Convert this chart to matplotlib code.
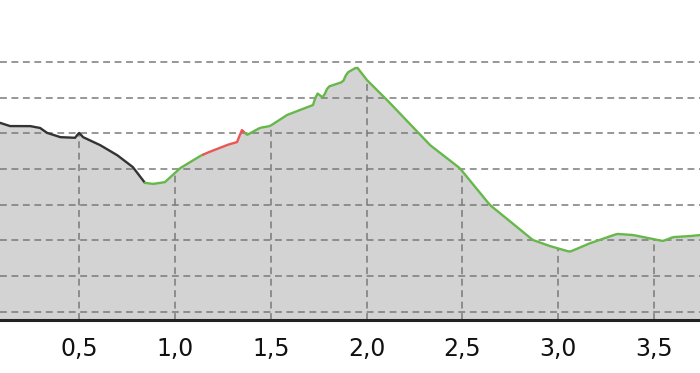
import matplotlib
matplotlib.use("Agg")
import matplotlib.pyplot as plt
import numpy as np

# distance (km) and elevation (m)
dist = [0.0, 0.088, 0.140, 0.244, 0.296, 0.333, 0.401, 0.479, 0.500, 0.521,
        0.609, 0.698, 0.781, 0.844, 0.886, 0.948, 1.027, 1.131, 1.168, 1.272,
        1.324, 1.350, 1.376, 1.444, 1.496, 1.585, 1.653, 1.721, 1.741, 1.773,
        1.799, 1.877, 1.898, 1.950, 2.002, 2.107, 2.242, 2.331, 2.487, 2.644,
        2.868, 2.957, 3.061, 3.166, 3.307, 3.390, 3.494, 3.547, 3.599, 3.688,
        3.740, 3.800]
elev = [153.2, 152.9, 152.0, 152.0, 151.5, 150.1, 148.9, 148.7, 150.1, 148.9,
        146.7, 143.9, 140.5, 136.1, 135.8, 136.3, 140.2, 143.6, 144.5, 146.7,
        147.5, 150.9, 149.5, 151.5, 152.0, 155.1, 156.5, 157.9, 161.3, 159.9,
        163.0, 164.4, 166.9, 168.5, 164.9, 159.3, 151.7, 146.7, 140.2, 129.9,
        120.1, 118.4, 116.8, 119.2, 121.8, 121.5, 120.4, 119.8, 120.9, 121.2,
        121.5, 121.6]

# colour segments along the track: (start km, end km, colour)
seg_start = [0.0, 0.844, 1.147, 1.366]
seg_end = [0.844, 1.147, 1.366, 3.800]
seg_color = ["#333333", "#66b84a", "#ee5555", "#66b84a"]

xticks = [0.5, 1.0, 1.5, 2.0, 2.5, 3.0, 3.5]
xlabels = ["0,5", "1,0", "1,5", "2,0", "2,5", "3,0", "3,5"]
yticks = [100, 110, 120, 130, 140, 150, 160, 170]

dist = np.array(dist)
elev = np.array(elev)

fig = plt.figure(figsize=(7.0, 3.73), dpi=100)
ax = fig.add_axes([0.0, 53 / 373, 1.0, 320 / 373])
ymin, ymax = 97.7, 187.3
ax.set_xlim(0.0876, 3.740)
ax.set_ylim(ymin, ymax)

ax.fill_between(dist, elev, ymin, color="#d3d3d3", lw=0, zorder=1)

# horizontal grid
for y in yticks:
    ax.axhline(y, color="#7a7a7a", lw=1.1, ls=(0, (4.5, 3)), zorder=2)
# vertical grid only under the profile
for x in xticks:
    ax.vlines(x, ymin, np.interp(x, dist, elev), color="#7a7a7a", lw=1.1,
              ls=(0, (4.5, 3)), zorder=2)

for s, e, c in zip(seg_start, seg_end, seg_color):
    xs = np.linspace(s, e, 200)
    ax.plot(xs, np.interp(xs, dist, elev), color=c, lw=1.7,
            solid_capstyle="round", zorder=3)

ax.set_xticks(xticks)
ax.set_xticklabels(xlabels, fontsize=17)
ax.tick_params(axis="x", length=0, pad=12, colors="#111111")
ax.set_yticks([])
for side in ["top", "left", "right"]:
    ax.spines[side].set_visible(False)
ax.spines["bottom"].set_linewidth(2.2)
ax.spines["bottom"].set_color("#222222")

fig.savefig("out.png", dpi=100)
